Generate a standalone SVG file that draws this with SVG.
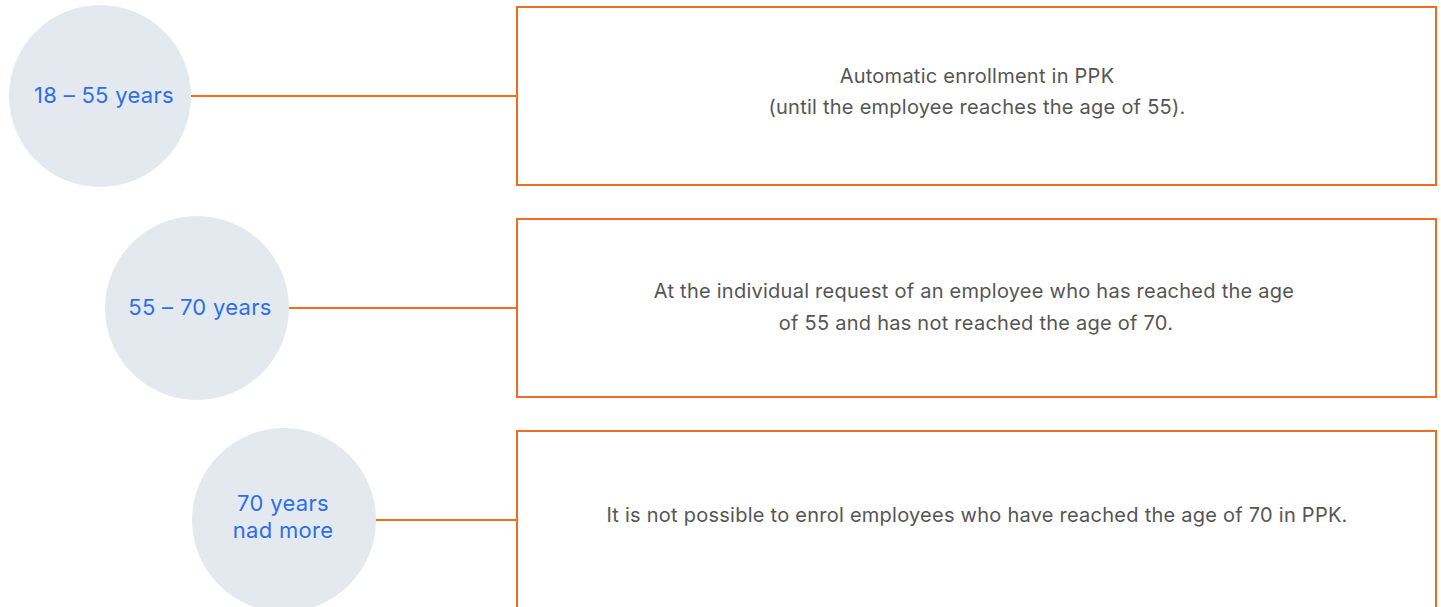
<svg xmlns="http://www.w3.org/2000/svg" width="1441" height="607" viewBox="0 0 1441 607">
<style>
.circ{fill:#E4E9F0}
.lbl{font-family:Inter,"Liberation Sans",sans-serif;font-size:22px;letter-spacing:0.3px;fill:#2D6FE9;text-anchor:middle}
.box{fill:#FFFFFF;stroke:#F26B1F;stroke-width:2}
.txt{font-family:Inter,"Liberation Sans",sans-serif;font-size:20px;letter-spacing:0.25px;fill:#555555;text-anchor:middle}
.con{stroke:#F26B1F;stroke-width:2;fill:none}
</style>
<rect width="1441" height="607" fill="#FFFFFF"/>
<g id="connectors">
<line class="con" x1="191" y1="96" x2="517" y2="96"/>
<line class="con" x1="288" y1="308" x2="517" y2="308"/>
<line class="con" x1="376" y1="520" x2="517" y2="520"/>
</g>
<g id="age1">
<circle class="circ" cx="100" cy="96" r="91"/>
<text class="lbl" x="104" y="103">18 – 55 years</text>
</g>
<g id="age2">
<circle class="circ" cx="197" cy="308" r="92"/>
<text class="lbl" x="200" y="315">55 – 70 years</text>
</g>
<g id="age3">
<circle class="circ" cx="284" cy="520" r="92"/>
<text class="lbl" x="283" y="511">70 years</text>
<text class="lbl" x="283" y="538">nad more</text>
</g>
<g id="rule1">
<rect class="box" x="517" y="7" width="919" height="178"/>
<text class="txt" x="977" y="83">Automatic enrollment in PPK</text>
<text class="txt" x="977" y="114">(until the employee reaches the age of 55).</text>
</g>
<g id="rule2">
<rect class="box" x="517" y="219" width="919" height="178"/>
<text class="txt" x="974" y="298">At the individual request of an employee who has reached the age</text>
<text class="txt" x="976" y="330">of 55 and has not reached the age of 70.</text>
</g>
<g id="rule3">
<rect class="box" x="517" y="431" width="919" height="190"/>
<text class="txt" x="977" y="522">It is not possible to enrol employees who have reached the age of 70 in PPK.</text>
</g>
</svg>
